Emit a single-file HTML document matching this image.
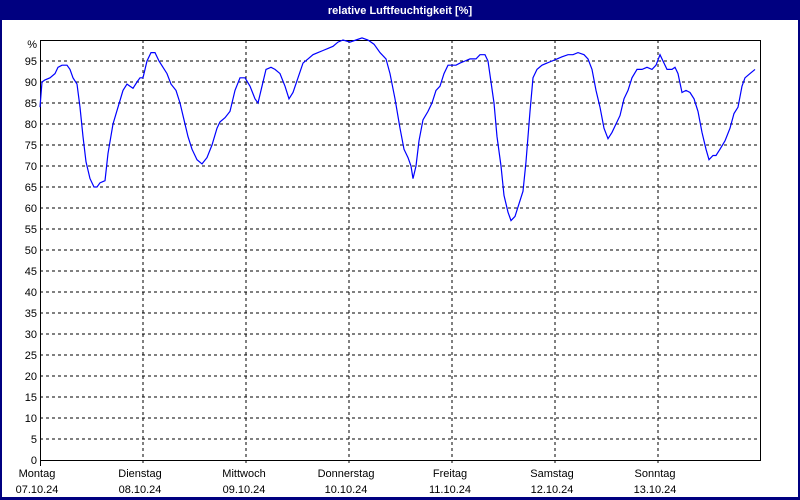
<!DOCTYPE html>
<html><head><meta charset="utf-8"><style>
html,body{margin:0;padding:0;background:#fff}
svg{display:block}
text{font-family:"Liberation Sans",sans-serif;font-size:11px;fill:#000}
</style></head><body>
<svg width="800" height="500" viewBox="0 0 800 500" xmlns="http://www.w3.org/2000/svg">
<rect x="0" y="0" width="800" height="500" fill="#000080"/>
<rect x="2" y="20" width="796" height="477" fill="#fff"/>
<text x="400" y="14" text-anchor="middle" style="fill:#fff;font-weight:bold;font-size:11px">relative Luftfeuchtigkeit [%]</text>
<g stroke="#000" stroke-dasharray="3,3" stroke-width="1" shape-rendering="crispEdges">
<line x1="40" x2="760" y1="439" y2="439"/><line x1="40" x2="760" y1="418" y2="418"/><line x1="40" x2="760" y1="397" y2="397"/><line x1="40" x2="760" y1="376" y2="376"/><line x1="40" x2="760" y1="355" y2="355"/><line x1="40" x2="760" y1="334" y2="334"/><line x1="40" x2="760" y1="313" y2="313"/><line x1="40" x2="760" y1="292" y2="292"/><line x1="40" x2="760" y1="271" y2="271"/><line x1="40" x2="760" y1="250" y2="250"/><line x1="40" x2="760" y1="229" y2="229"/><line x1="40" x2="760" y1="208" y2="208"/><line x1="40" x2="760" y1="187" y2="187"/><line x1="40" x2="760" y1="166" y2="166"/><line x1="40" x2="760" y1="145" y2="145"/><line x1="40" x2="760" y1="124" y2="124"/><line x1="40" x2="760" y1="103" y2="103"/><line x1="40" x2="760" y1="82" y2="82"/><line x1="40" x2="760" y1="61" y2="61"/>
<line x1="143" x2="143" y1="40" y2="466"/><line x1="246" x2="246" y1="40" y2="466"/><line x1="349" x2="349" y1="40" y2="466"/><line x1="452" x2="452" y1="40" y2="466"/><line x1="555" x2="555" y1="40" y2="466"/><line x1="658" x2="658" y1="40" y2="466"/>
</g>
<rect x="40.5" y="40.5" width="720" height="420" fill="none" stroke="#000" stroke-width="1" shape-rendering="crispEdges"/>
<line x1="40.5" y1="460" x2="40.5" y2="466" stroke="#000"/>
<g text-anchor="end">
<text x="37" y="48">%</text>
<text x="37" y="65">95</text><text x="37" y="86">90</text><text x="37" y="107">85</text><text x="37" y="128">80</text><text x="37" y="149">75</text><text x="37" y="170">70</text><text x="37" y="191">65</text><text x="37" y="212">60</text><text x="37" y="233">55</text><text x="37" y="254">50</text><text x="37" y="275">45</text><text x="37" y="296">40</text><text x="37" y="317">35</text><text x="37" y="338">30</text><text x="37" y="359">25</text><text x="37" y="380">20</text><text x="37" y="401">15</text><text x="37" y="422">10</text><text x="37" y="443">5</text><text x="37" y="464">0</text>
</g>
<g text-anchor="middle">
<text x="37" y="477">Montag</text><text x="37" y="493">07.10.24</text>
<text x="140" y="477">Dienstag</text><text x="140" y="493">08.10.24</text>
<text x="244" y="477">Mittwoch</text><text x="244" y="493">09.10.24</text>
<text x="346" y="477">Donnerstag</text><text x="346" y="493">10.10.24</text>
<text x="450" y="477">Freitag</text><text x="450" y="493">11.10.24</text>
<text x="552" y="477">Samstag</text><text x="552" y="493">12.10.24</text>
<text x="655" y="477">Sonntag</text><text x="655" y="493">13.10.24</text>
</g>
<polyline id="d" fill="none" stroke="#0000ff" stroke-width="1.2" points=""/>
<script>
var d=[[40,84],[42,90],[45,90.5],[50,91],[55,92],[58,93.5],[62,94],[67,94],[70,93],[73,91],[77,89.5],[80,84],[83,77],[86,71],[90,67],[94,65],[97,65],[100,66],[105,66.5],[108,73],[113,80],[118,84],[123,88],[127,89.5],[130,89],[133,88.5],[137,90],[140,91],[143,91],[147,95],[151,97],[155,97],[159,95],[163,93.5],[167,92],[171,89.5],[176,88],[180,85],[184,81],[188,77],[192,74],[197,71.5],[202,70.5],[207,72],[212,75],[217,79],[220,80.5],[225,81.5],[230,83],[235,88],[240,91],[245,91],[250,89],[255,86],[258,85],[262,89],[266,93],[271,93.5],[275,93],[280,92],[285,89],[289,86],[293,87.5],[298,91],[303,94.5],[308,95.5],[313,96.5],[318,97],[323,97.5],[328,98],[333,98.5],[338,99.5],[343,100],[350,99.5],[356,100],[362,100.5],[368,100],[374,99],[380,97],[386,95.5],[390,92],[395,86],[400,79],[404,74],[408,72],[411,70],[413,67],[416,70],[419,76],[423,81],[428,83],[432,85],[436,88],[440,89],[444,92],[448,94],[452,94],[456,94],[460,94.5],[465,95],[470,95.5],[476,95.5],[480,96.5],[485,96.5],[488,95],[491,90],[494,85],[497,77],[501,70],[504,63],[508,59],[511,57],[515,58],[519,61],[523,64],[526,71],[530,83],[533,91],[537,93],[542,94],[547,94.5],[552,95],[557,95.5],[562,96],[568,96.5],[573,96.5],[578,97],[584,96.5],[588,95.5],[592,93],[596,88],[600,84],[604,79],[608,76.5],[612,78],[616,80],[620,82],[624,86],[628,88],[632,91],[637,93],[642,93],[647,93.5],[652,93],[656,94],[660,96.5],[663,95],[667,93],[672,93],[675,93.5],[678,92],[682,87.5],[686,88],[690,87.5],[694,86],[698,83],[702,78],[706,74],[709,71.5],[713,72.5],[716,72.5],[720,74],[725,76],[730,79],[734,82.5],[738,84],[742,89],[745,91],[750,92],[755,93]];
document.getElementById('d').setAttribute('points',d.map(function(p){return p[0]+','+(460-4.2*p[1]).toFixed(1)}).join(' '));
</script>
</svg>
</body></html>
